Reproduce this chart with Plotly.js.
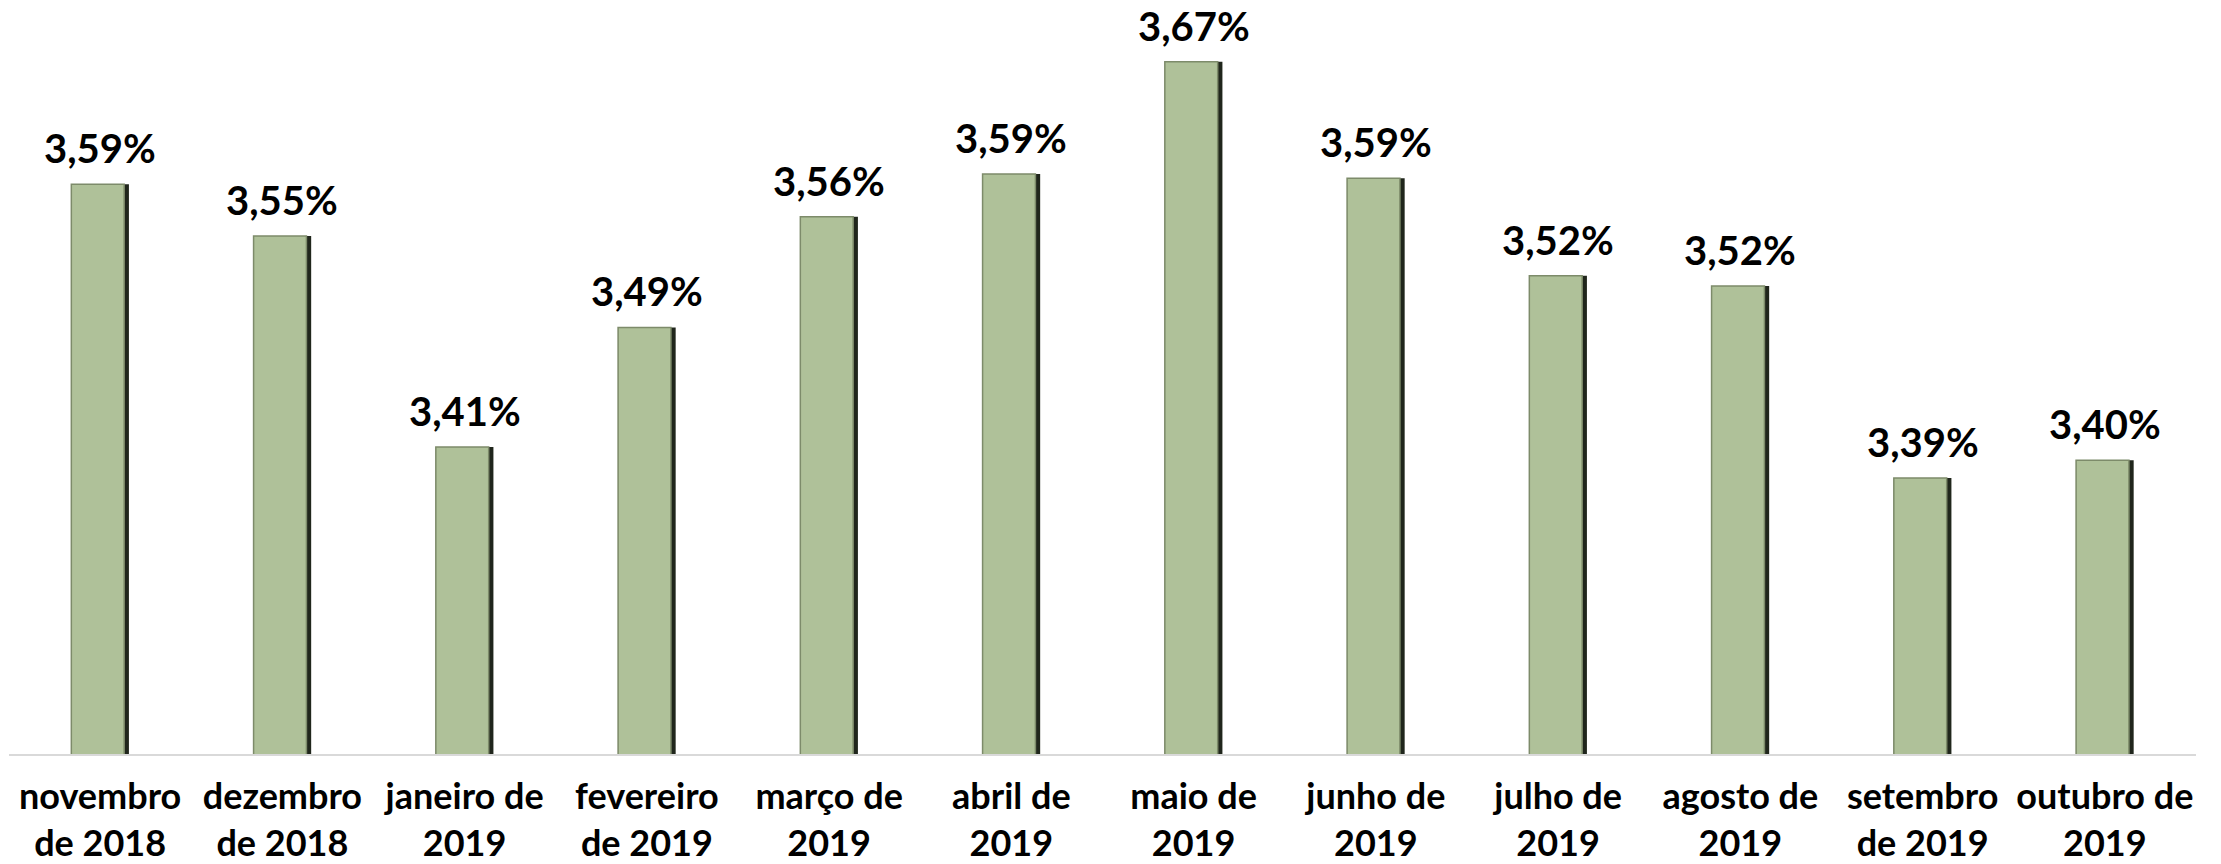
<!DOCTYPE html>
<html><head><meta charset="utf-8">
<script src="https://cdn.plot.ly/plotly-3.0.1.min.js"></script>
<style>html,body{margin:0;padding:0;background:#fff}#chart{width:2221px;height:864px}</style>
</head><body><div id="chart"></div>
<script>
const categories = ["novembro de 2018","dezembro de 2018","janeiro de 2019","fevereiro de 2019","março de 2019","abril de 2019","maio de 2019","junho de 2019","julho de 2019","agosto de 2019","setembro de 2019","outubro de 2019"];
const tickLabels = ["novembro<br>de 2018","dezembro<br>de 2018","janeiro de<br>2019","fevereiro<br>de 2019","março de<br>2019","abril de<br>2019","maio de<br>2019","junho de<br>2019","julho de<br>2019","agosto de<br>2019","setembro<br>de 2019","outubro de<br>2019"];
const values = [3.586, 3.551, 3.408, 3.489, 3.564, 3.593, 3.669, 3.590, 3.524, 3.517, 3.387, 3.399];

const fmt = v => v.toFixed(2).replace('.', ',') + '%';
const TICKFONT = {family: 'Lato, "Open Sans", sans-serif', size: 36, color: '#000000', weight: 700};
const LABELFONT = {family: 'Lato, "Open Sans", sans-serif', size: 40, color: '#000000', weight: 700};

const traces = [
  {type: 'bar', x: categories, y: values, width: 0.316, offset: -0.158,
   marker: {color: '#20261c', line: {width: 0}}, hoverinfo: 'skip', showlegend: false},
  {type: 'bar', x: categories, y: values, width: 0.290, offset: -0.158,
   marker: {color: '#afc199', line: {color: '#7d8b6a', width: 1.5}}, hoverinfo: 'skip', showlegend: false}
];

const annotations = categories.map((c, i) => ({
  x: c, y: values[i], xref: 'x', yref: 'y', text: fmt(values[i]),
  showarrow: false, yanchor: 'bottom', xanchor: 'center', yshift: 10,
  font: LABELFONT
}));

const layout = {
  width: 2221, height: 864,
  margin: {l: 9, r: 25, t: 16, b: 110},
  paper_bgcolor: '#ffffff', plot_bgcolor: '#ffffff',
  barmode: 'overlay',
  showlegend: false,
  xaxis: {
    type: 'category', categoryarray: categories,
    tickvals: categories, ticktext: tickLabels,
    showline: true, linecolor: '#d9d9d9', linewidth: 2,
    ticks: '', showgrid: false, zeroline: false,
    tickfont: TICKFONT, ticklabelstandoff: 10
  },
  yaxis: {range: [3.2, 3.7], visible: false, showgrid: false, zeroline: false},
  annotations: annotations
};

Plotly.newPlot('chart', traces, layout, {staticPlot: true, displayModeBar: false});
</script></body></html>
